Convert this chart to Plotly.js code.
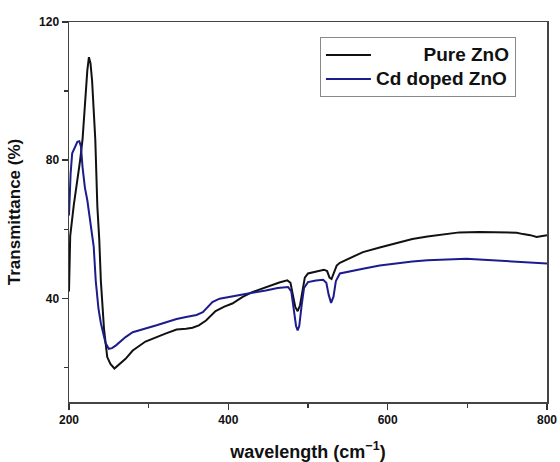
<!DOCTYPE html>
<html>
<head>
<meta charset="utf-8">
<script src="https://cdn.plot.ly/plotly-3.0.1.min.js"></script>
<style>html,body{margin:0;padding:0;background:#fff;}#chart{width:560px;height:462px;}</style>
</head>
<body>
<div id="chart"></div>
<script>
// Pure ZnO
const pureX = [200,201.5,206,210.5,214,217,221,223,225,227,229,231,233,235.6,238,240,244,248,252,257,263,271,280,296,321,335,347,355,363,372,384,395,405,418,430,447,464,474,478,481,484,487,490,493,496,500,510,520,524,527,529.5,532,536,540,555,569,590,611,631,650,665,690,715,741,762,770,779,787,793,800];
const pureY = [42,58,67,74,80,86,100,106,109.8,108,103,95,86,66.5,57,45,31,23,21,19.7,20.8,22.5,24.9,27.5,29.8,31.0,31.2,31.5,32.2,33.6,36.3,37.6,38.5,40.4,41.8,43.3,44.6,45.2,44.5,41,37.5,36.3,38,42,46,47.2,47.8,48.3,47.9,46,45.6,47,49.5,50.3,52,53.4,54.7,55.9,57.2,57.9,58.3,59.1,59.2,59,59,58.6,58.3,57.8,58,58.3];
// Cd doped ZnO
const cdX = [200,202,204,207,210.5,213,215,217,220,223,226,229,231,233.6,237,240,243,246,250,254,259,265,271,280,296,310,322,335,347,360,368,374,380,389,400,414,430,447,462,475,479,482,485,487,489,492,495,500,510,519,523,526,529,532,535,540,555,569,590,611,631,650,665,680,699,720,749,765,783,800];
const cdY = [64,76,82,83.5,85.3,85.5,84,78,72,68.4,63,58.8,55,45,37,32.8,29.5,27,25.4,25.6,26.4,27.6,28.8,30.2,31.2,32.2,33.1,34,34.6,35.2,36,37.5,38.9,39.9,40.4,40.9,41.6,42.3,43,43.3,42,37,32,30.7,32,38,43,44.7,45.2,45.4,44.5,41,38.7,40.5,45,47.2,48,48.6,49.5,50.1,50.7,51,51.2,51.4,51.5,51.2,50.8,50.7,50.5,50.1];
const seriesNames = ['Pure ZnO', 'Cd doped ZnO'];
const xTicks = [200, 400, 600, 800];
const yTicks = [40, 80, 120];

const NB = '\u00a0';
const big = s => '<span style="font-size:19px">' + s + '</span>';
const traces = [
  {x: pureX, y: pureY, type: 'scatter', mode: 'lines', name: big(NB.repeat(9) + seriesNames[0]),
   line: {color: '#111111', width: 2}},
  {x: cdX, y: cdY, type: 'scatter', mode: 'lines', name: big(seriesNames[1]),
   line: {color: '#1c1c8c', width: 2}}
];

const bold = {family: 'Liberation Sans, Arial, sans-serif', color: '#111', weight: 'bold'};
const layout = {
  width: 560, height: 462,
  margin: {l: 69, r: 13, t: 22, b: 60},
  paper_bgcolor: '#fff', plot_bgcolor: '#fff',
  showlegend: true,
  legend: {
    x: 0.525, y: 0.96, xanchor: 'left', yanchor: 'top',
    bgcolor: '#fff', bordercolor: '#888', borderwidth: 1,
    font: Object.assign({size: 16}, bold),
    traceorder: 'normal', tracegroupgap: 0, itemwidth: 45
  },
  xaxis: {
    range: [200, 800], tickvals: xTicks, ticktext: xTicks.map(String),
    ticks: 'outside', ticklen: 6, tickwidth: 1.5, tickcolor: '#333',
    minor: {dtick: 100, tick0: 0, ticks: 'outside', ticklen: 4, tickcolor: '#333'},
    showline: true, linecolor: '#444', linewidth: 1.5, mirror: true,
    showgrid: false, zeroline: false,
    tickfont: Object.assign({size: 12}, bold),
    title: {text: 'wavelength (cm<sup>−1</sup>)', font: Object.assign({size: 18}, bold), standoff: 20}
  },
  yaxis: {
    range: [10, 120], tickvals: yTicks, ticktext: yTicks.map(String),
    ticks: 'outside', ticklen: 6, tickwidth: 1.5, tickcolor: '#333',
    minor: {dtick: 20, tick0: 0, ticks: 'outside', ticklen: 4, tickcolor: '#333'},
    showline: true, linecolor: '#444', linewidth: 1.5, mirror: true,
    showgrid: false, zeroline: false,
    tickfont: Object.assign({size: 12}, bold),
    title: {text: 'Transmittance (%)', font: Object.assign({size: 17}, bold), standoff: 14}
  }
};
Plotly.newPlot('chart', traces, layout, {displayModeBar: false, staticPlot: true});
</script>
</body>
</html>
